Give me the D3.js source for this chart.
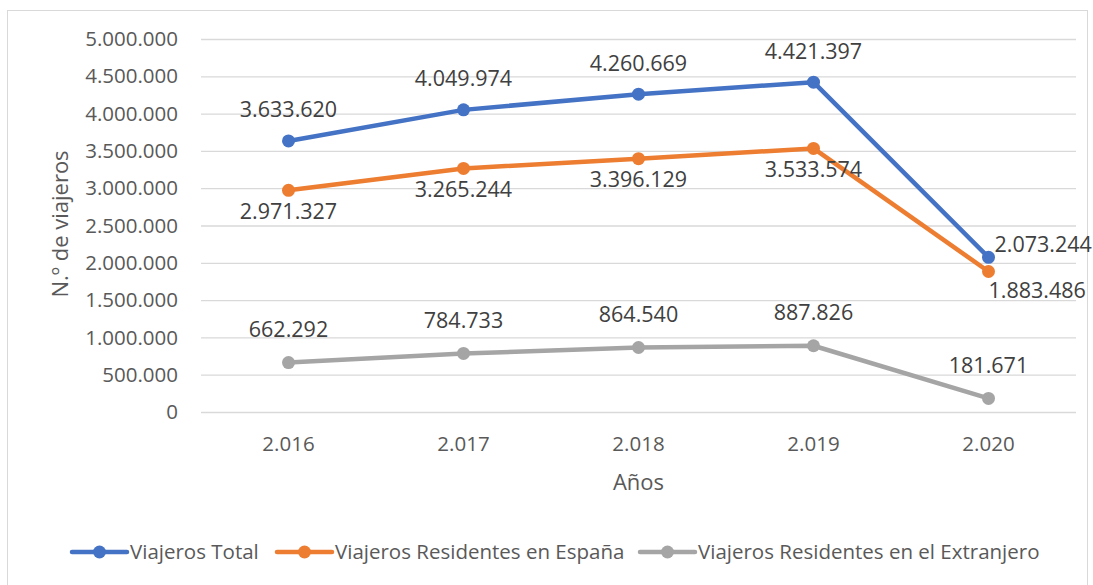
<!DOCTYPE html>
<html>
<head>
<meta charset="utf-8">
<script src="https://cdn.jsdelivr.net/npm/d3@7"></script>
<style>
  body { margin: 0; background: #fff; }
  svg { display: block; font-family: 'Open Sans', sans-serif; }
</style>
</head>
<body>
<div id="chart"></div>
<script>
const years = ['2.016', '2.017', '2.018', '2.019', '2.020']
const viajerosTotal = [3633620, 4049974, 4260669, 4421397, 2073244]
const viajerosEspana = [2971327, 3265244, 3396129, 3533574, 1883486]
const viajerosExtranjero = [662292, 784733, 864540, 887826, 181671]
const yTicks = [0, 500000, 1000000, 1500000, 2000000, 2500000, 3000000, 3500000, 4000000, 4500000, 5000000]

const width = 1093
const height = 585
const plot = { left: 201, right: 1076, top: 39, bottom: 412 }

const fmt = d3.formatLocale({ decimal: ',', thousands: '.', grouping: [3] }).format(',d')

const series = [
  { name: 'Viajeros Total', values: viajerosTotal, color: '#4472C4',
    labelPos: i => (i === 4 ? { dx: 6, dy: -13, anchor: 'start' } : { dx: 0, dy: -31, anchor: 'middle' }) },
  { name: 'Viajeros Residentes en España', values: viajerosEspana, color: '#ED7D31',
    labelPos: i => (i === 4 ? { dx: 0, dy: 19, anchor: 'start' } : { dx: 0, dy: 21, anchor: 'middle' }) },
  { name: 'Viajeros Residentes en el Extranjero', values: viajerosExtranjero, color: '#A5A5A5',
    labelPos: () => ({ dx: 0, dy: -33, anchor: 'middle' }) },
]

const svg = d3.select('#chart').append('svg')
  .attr('width', width)
  .attr('height', height)

svg.append('rect')
  .attr('x', 7.5).attr('y', 10.5)
  .attr('width', 1080).attr('height', 590)
  .attr('fill', '#fff')
  .attr('stroke', '#d9d9d9')

const x = d3.scaleBand().domain(years).range([plot.left, plot.right])
const y = d3.scaleLinear().domain([0, 5000000]).range([plot.bottom, plot.top])
const cx = d => x(d) + x.bandwidth() / 2

// gridlines
svg.append('g')
  .selectAll('line')
  .data(yTicks)
  .join('line')
  .attr('x1', plot.left).attr('x2', plot.right)
  .attr('y1', d => y(d) + 0.5).attr('y2', d => y(d) + 0.5)
  .attr('stroke', '#d9d9d9')
  .attr('stroke-width', 1.3)

// y tick labels
svg.append('g')
  .selectAll('text')
  .data(yTicks)
  .join('text')
  .attr('x', 178)
  .attr('y', d => y(d))
  .attr('dy', '0.35em')
  .attr('text-anchor', 'end')
  .attr('font-size', 20.5)
  .attr('fill', '#595959')
  .text(d => fmt(d))

// x tick labels
svg.append('g')
  .selectAll('text')
  .data(years)
  .join('text')
  .attr('x', d => cx(d))
  .attr('y', 444)
  .attr('dy', '0.35em')
  .attr('text-anchor', 'middle')
  .attr('font-size', 20.5)
  .attr('fill', '#595959')
  .text(d => d)

// axis titles
svg.append('text')
  .attr('x', cx(years[2]))
  .attr('y', 482)
  .attr('dy', '0.35em')
  .attr('text-anchor', 'middle')
  .attr('font-size', 22)
  .attr('fill', '#595959')
  .text('Años')

svg.append('text')
  .attr('transform', 'translate(60, 224) rotate(-90)')
  .attr('dy', '0.35em')
  .attr('text-anchor', 'middle')
  .attr('font-size', 22)
  .attr('fill', '#595959')
  .text('N.º de viajeros')

const line = d3.line().x((d, i) => cx(years[i])).y(d => y(d))

series.forEach(s => {
  const g = svg.append('g')
  g.append('path')
    .attr('d', line(s.values))
    .attr('fill', 'none')
    .attr('stroke', s.color)
    .attr('stroke-width', 4.5)
    .attr('stroke-linejoin', 'round')
  g.selectAll('circle')
    .data(s.values)
    .join('circle')
    .attr('cx', (d, i) => cx(years[i]))
    .attr('cy', d => y(d))
    .attr('r', 6.5)
    .attr('fill', s.color)
  g.selectAll('text')
    .data(s.values)
    .join('text')
    .attr('x', (d, i) => cx(years[i]) + s.labelPos(i).dx)
    .attr('y', (d, i) => y(d) + s.labelPos(i).dy)
    .attr('dy', '0.35em')
    .attr('text-anchor', (d, i) => s.labelPos(i).anchor)
    .attr('font-size', 21.5)
    .attr('fill', '#404040')
    .text(d => fmt(d))
})

// legend
const legendX = [72, 277, 640]
const legend = svg.append('g')
series.forEach((s, i) => {
  const lg = legend.append('g').attr('transform', `translate(${legendX[i]}, 552)`)
  lg.append('line')
    .attr('x1', 0).attr('x2', 55)
    .attr('stroke', s.color)
    .attr('stroke-width', 4.5)
    .attr('stroke-linecap', 'round')
  lg.append('circle').attr('cx', 27.5).attr('r', 6.5).attr('fill', s.color)
  lg.append('text')
    .attr('x', 58)
    .attr('dy', '0.35em')
    .attr('font-size', 20.5)
    .attr('fill', '#595959')
    .text(s.name)
})
</script>
</body>
</html>
